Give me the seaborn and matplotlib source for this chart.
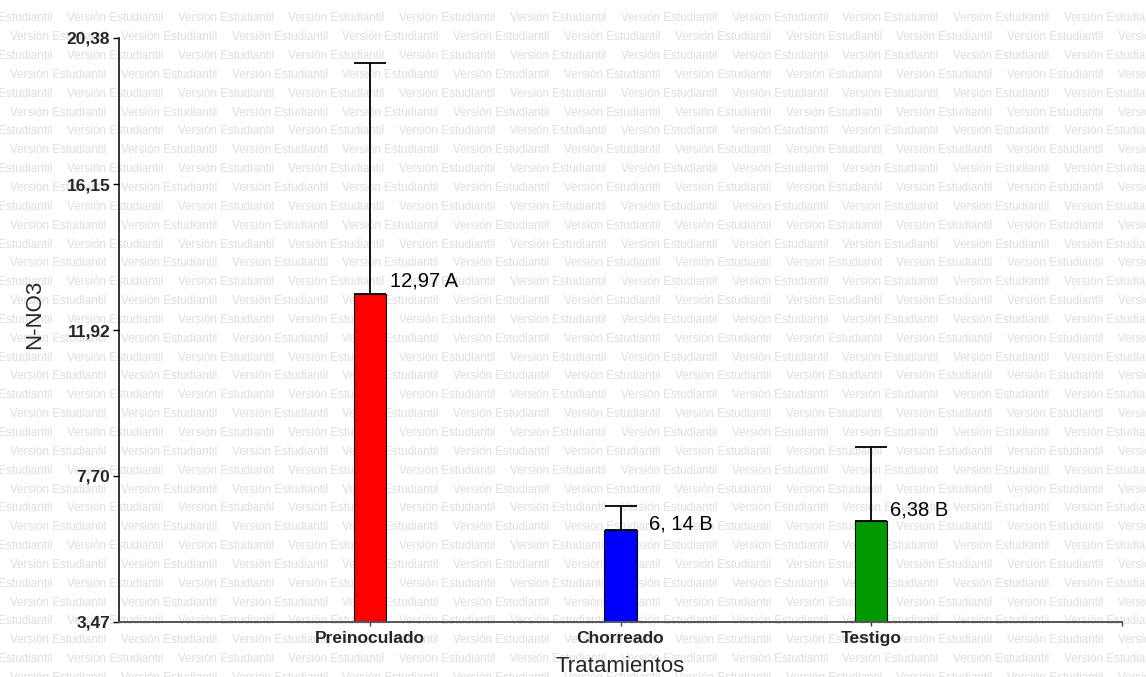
import numpy as np
import pandas as pd
import matplotlib
matplotlib.use("Agg")
import matplotlib.pyplot as plt
import seaborn as sns

# Treatment means of N-NO3 and the upper part of their error bars
categories = ["Preinoculado", "Chorreado", "Testigo"]
means = [12.97, 6.14, 6.38]
upper_err = [6.69, 0.69, 2.15]
bar_labels = ["12,97 A", "6, 14 B", "6,38 B"]
bar_colors = ["#ff0000", "#0000ff", "#009900"]
y_ticks = [3.47, 7.70, 11.92, 16.15, 20.38]
y_tick_labels = ["3,47", "7,70", "11,92", "16,15", "20,38"]

# label offsets (points) from the top-right corner of each bar
label_offsets = [(3.2, 4.9), (9.0, 0.0), (2.2, 4.3)]

sns.set_style("white")
plt.rcParams["font.family"] = ["Liberation Sans", "DejaVu Sans"]

W, H = 1146, 677
fig = plt.figure(figsize=(W / 100, H / 100), dpi=100)
fig.patch.set_facecolor("white")

# repeated background watermark
row_step = 18.85
col_step = 110.8
for k in range(int(H / row_step) + 2):
    yc = 18.3 + k * row_step
    x0 = -44.0 if k % 2 == 0 else 10.0
    x = x0
    while x < W:
        fig.text(x / W, 1 - yc / H, "Versión Estudiantil", fontsize=8.4,
                 color="#dedede", ha="left", va="center", zorder=-5)
        x += col_step

ax = fig.add_axes([119 / W, (H - 621.7) / H, 1003 / W, 583.7 / H])
ax.patch.set_alpha(0)

df = pd.DataFrame({"Tratamiento": categories, "NO3": means})
sns.barplot(data=df, x="Tratamiento", y="NO3", hue="Tratamiento",
            palette=bar_colors, saturation=1, width=0.128, edgecolor="black",
            linewidth=0.8, legend=False, ax=ax, zorder=2)

pos = np.arange(len(categories))
ax.errorbar(pos, means, yerr=[np.zeros(len(means)), upper_err], fmt="none",
            ecolor="black", elinewidth=1.3, capsize=11.5, capthick=1.3,
            zorder=3)

bar_w = 0.128
for p, v, lab, (dx, dy) in zip(pos, means, bar_labels, label_offsets):
    ax.annotate(lab, xy=(p + bar_w / 2, v), xytext=(dx, dy),
                textcoords="offset points", ha="left", va="baseline",
                fontsize=14.5, color="black", zorder=4)

ax.set_xlim(-1, 3)
ax.set_ylim(y_ticks[0], y_ticks[-1])
ax.set_yticks(y_ticks)
ax.set_yticklabels(y_tick_labels, fontweight="bold", fontsize=12.5)
ax.set_xticks(list(pos) + [3])
ax.set_xticklabels(categories + [""], fontweight="bold", fontsize=12.5)

ax.tick_params(axis="y", direction="out", length=4.3, width=1.0,
               pad=2, color="black", left=True)
ax.tick_params(axis="x", direction="out", length=3, width=1.0,
               pad=3.5, color="#444444", bottom=True)

for side in ["top", "right"]:
    ax.spines[side].set_visible(False)
ax.spines["left"].set_color("black")
ax.spines["left"].set_linewidth(1.1)
ax.spines["bottom"].set_color("#555555")
ax.spines["bottom"].set_linewidth(1.4)

ax.set_ylabel("N-NO3", fontsize=16)
ax.set_xlabel("Tratamientos", fontsize=16)
ax.yaxis.set_label_coords(-0.074, 0.527)
ax.xaxis.set_label_coords(0.5, -0.058)
ax.grid(False)

fig.savefig("out.png", dpi=100)
